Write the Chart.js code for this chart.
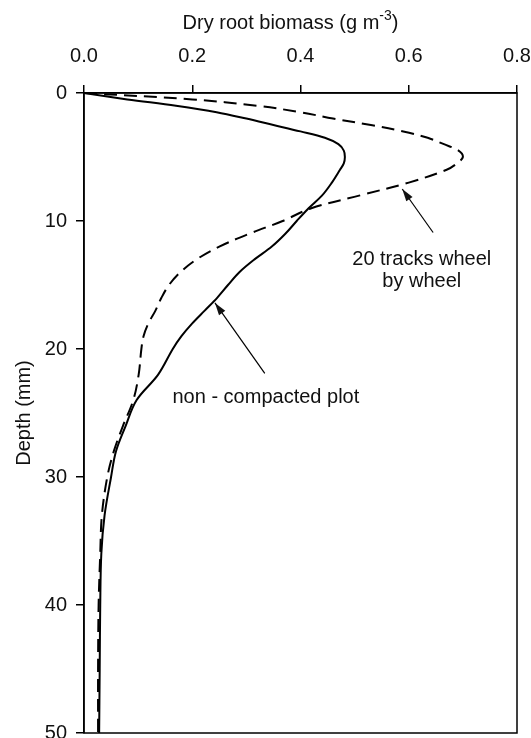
<!DOCTYPE html>
<html>
<head>
<meta charset="utf-8">
<script src="https://cdn.jsdelivr.net/npm/chart.js@4.4.1/dist/chart.umd.min.js"></script>
<style>
  body { margin: 0; background: #fff; }
  #wrap { width: 531px; height: 738px; }
</style>
</head>
<body>
<div id="wrap"><canvas id="root-chart"></canvas></div>
<script>
// depth below surface (mm), shared by both profiles
const depths = [0, 0.5, 1, 1.5, 2, 2.5, 3, 3.5, 4, 4.5, 5, 5.5, 6, 7, 8, 9, 10, 11, 12, 13, 14, 15, 16, 17, 18, 19, 20, 22, 24, 26, 28, 30, 33, 36, 40, 45, 50];

// dry root biomass (g m-3)
const nonCompacted = [0, 0.08, 0.17, 0.245, 0.30, 0.35, 0.40, 0.445, 0.47, 0.48, 0.482, 0.48, 0.473, 0.458, 0.44, 0.415, 0.393, 0.372, 0.347, 0.315, 0.287, 0.266, 0.246, 0.223, 0.200, 0.180, 0.164, 0.137, 0.097, 0.077, 0.059, 0.05, 0.038, 0.032, 0.030, 0.029, 0.028];
const tracks20 = [0, 0.20, 0.32, 0.40, 0.46, 0.53, 0.59, 0.635, 0.665, 0.692, 0.70, 0.689, 0.67, 0.60, 0.51, 0.42, 0.367, 0.305, 0.25, 0.208, 0.178, 0.157, 0.143, 0.132, 0.119, 0.110, 0.106, 0.101, 0.091, 0.072, 0.055, 0.043, 0.033, 0.030, 0.027, 0.026, 0.026];

const xTicks = [0, 0.2, 0.4, 0.6, 0.8];
const yTicks = [0, 10, 20, 30, 40, 50];

// labels with arrows, in data units: [text lines, text x, first line y, arrow from, arrow tip]
const notes = [
  { lines: ["20 tracks wheel", "by wheel"], x: 0.624, y: 13.0, from: [0.645, 10.9], to: [0.588, 7.5] },
  { lines: ["non - compacted plot"], x: 0.336, y: 23.8, from: [0.334, 21.9], to: [0.242, 16.4] },
];

const FONT = "'Liberation Sans', Arial, sans-serif";

function profile(values) {
  return values.map((v, i) => ({ x: v, y: depths[i] }));
}

const frameAndNotes = {
  id: "frameAndNotes",
  afterDraw(chart) {
    const { ctx, chartArea: a, scales } = chart;
    const xs = scales.x, ys = scales.y;
    ctx.save();
    // box around plot
    ctx.strokeStyle = "#000";
    ctx.lineWidth = 1.5;
    ctx.strokeRect(a.left, a.top, a.right - a.left, a.bottom - a.top);

    // axis title with superscript
    ctx.fillStyle = "#111";
    ctx.textBaseline = "alphabetic";
    const t1 = "Dry root biomass (g m", sup = "-3", t2 = ")";
    ctx.font = "20px " + FONT;
    const w1 = ctx.measureText(t1).width, w3 = ctx.measureText(t2).width;
    ctx.font = "14px " + FONT;
    const w2 = ctx.measureText(sup).width;
    const tx = (a.left + a.right) / 2 - 10 - (w1 + w2 + w3) / 2;
    const ty = 29;
    ctx.font = "20px " + FONT;
    ctx.fillText(t1, tx, ty);
    ctx.font = "14px " + FONT;
    ctx.fillText(sup, tx + w1, ty - 9);
    ctx.font = "20px " + FONT;
    ctx.fillText(t2, tx + w1 + w2, ty);

    // annotations
    ctx.textAlign = "center";
    ctx.textBaseline = "middle";
    notes.forEach(n => {
      n.lines.forEach((s, i) => {
        ctx.fillText(s, xs.getPixelForValue(n.x), ys.getPixelForValue(n.y) + i * 22);
      });
      const x0 = xs.getPixelForValue(n.from[0]), y0 = ys.getPixelForValue(n.from[1]);
      const x1 = xs.getPixelForValue(n.to[0]), y1 = ys.getPixelForValue(n.to[1]);
      ctx.lineWidth = 1.2;
      ctx.beginPath();
      ctx.moveTo(x0, y0);
      ctx.lineTo(x1, y1);
      ctx.stroke();
      const ang = Math.atan2(y1 - y0, x1 - x0);
      ctx.beginPath();
      ctx.moveTo(x1, y1);
      ctx.lineTo(x1 - 13 * Math.cos(ang - 0.3), y1 - 13 * Math.sin(ang - 0.3));
      ctx.lineTo(x1 - 13 * Math.cos(ang + 0.3), y1 - 13 * Math.sin(ang + 0.3));
      ctx.closePath();
      ctx.fill();
    });
    ctx.restore();
  },
};

const ctx = document.getElementById("root-chart").getContext("2d");
new Chart(ctx, {
  type: "scatter",
  data: {
    datasets: [
      {
        label: "non - compacted plot",
        data: profile(nonCompacted),
        showLine: true,
        borderColor: "#000",
        borderWidth: 2,
        pointRadius: 0,
        tension: 0.35,
      },
      {
        label: "20 tracks wheel by wheel",
        data: profile(tracks20),
        showLine: true,
        borderColor: "#000",
        borderWidth: 2,
        borderDash: [13, 7],
        pointRadius: 0,
        tension: 0.35,
      },
    ],
  },
  options: {
    responsive: true,
    maintainAspectRatio: false,
    animation: false,
    layout: { padding: { left: 0, right: 14, top: 0, bottom: 5 } },
    plugins: { legend: { display: false }, tooltip: { enabled: false } },
    scales: {
      x: {
        type: "linear",
        position: "top",
        min: 0,
        max: 0.8,
        afterBuildTicks: s => { s.ticks = xTicks.map(v => ({ value: v })); },
        afterFit: s => { s.height = 93; s.paddingLeft = 0; s.paddingRight = 0; },
        ticks: {
          color: "#111",
          font: { family: FONT, size: 20 },
          padding: 17,
          maxRotation: 0,
          callback: v => v.toFixed(1),
        },
        grid: { drawOnChartArea: false, color: "#000", lineWidth: 1.5, tickLength: 8 },
        border: { color: "#000", width: 1.5 },
      },
      y: {
        type: "linear",
        reverse: true,
        min: 0,
        max: 50,
        afterBuildTicks: s => { s.ticks = yTicks.map(v => ({ value: v })); },
        afterFit: s => { s.width = 84; s.paddingTop = 0; s.paddingBottom = 0; },
        title: {
          display: true,
          text: "Depth (mm)",
          color: "#111",
          font: { family: FONT, size: 20 },
          padding: { top: 12, bottom: 0 },
        },
        ticks: {
          color: "#111",
          font: { family: FONT, size: 20 },
          padding: 9,
        },
        grid: { drawOnChartArea: false, color: "#000", lineWidth: 1.5, tickLength: 8 },
        border: { color: "#000", width: 1.5 },
      },
    },
  },
  plugins: [frameAndNotes],
});
</script>
</body>
</html>
